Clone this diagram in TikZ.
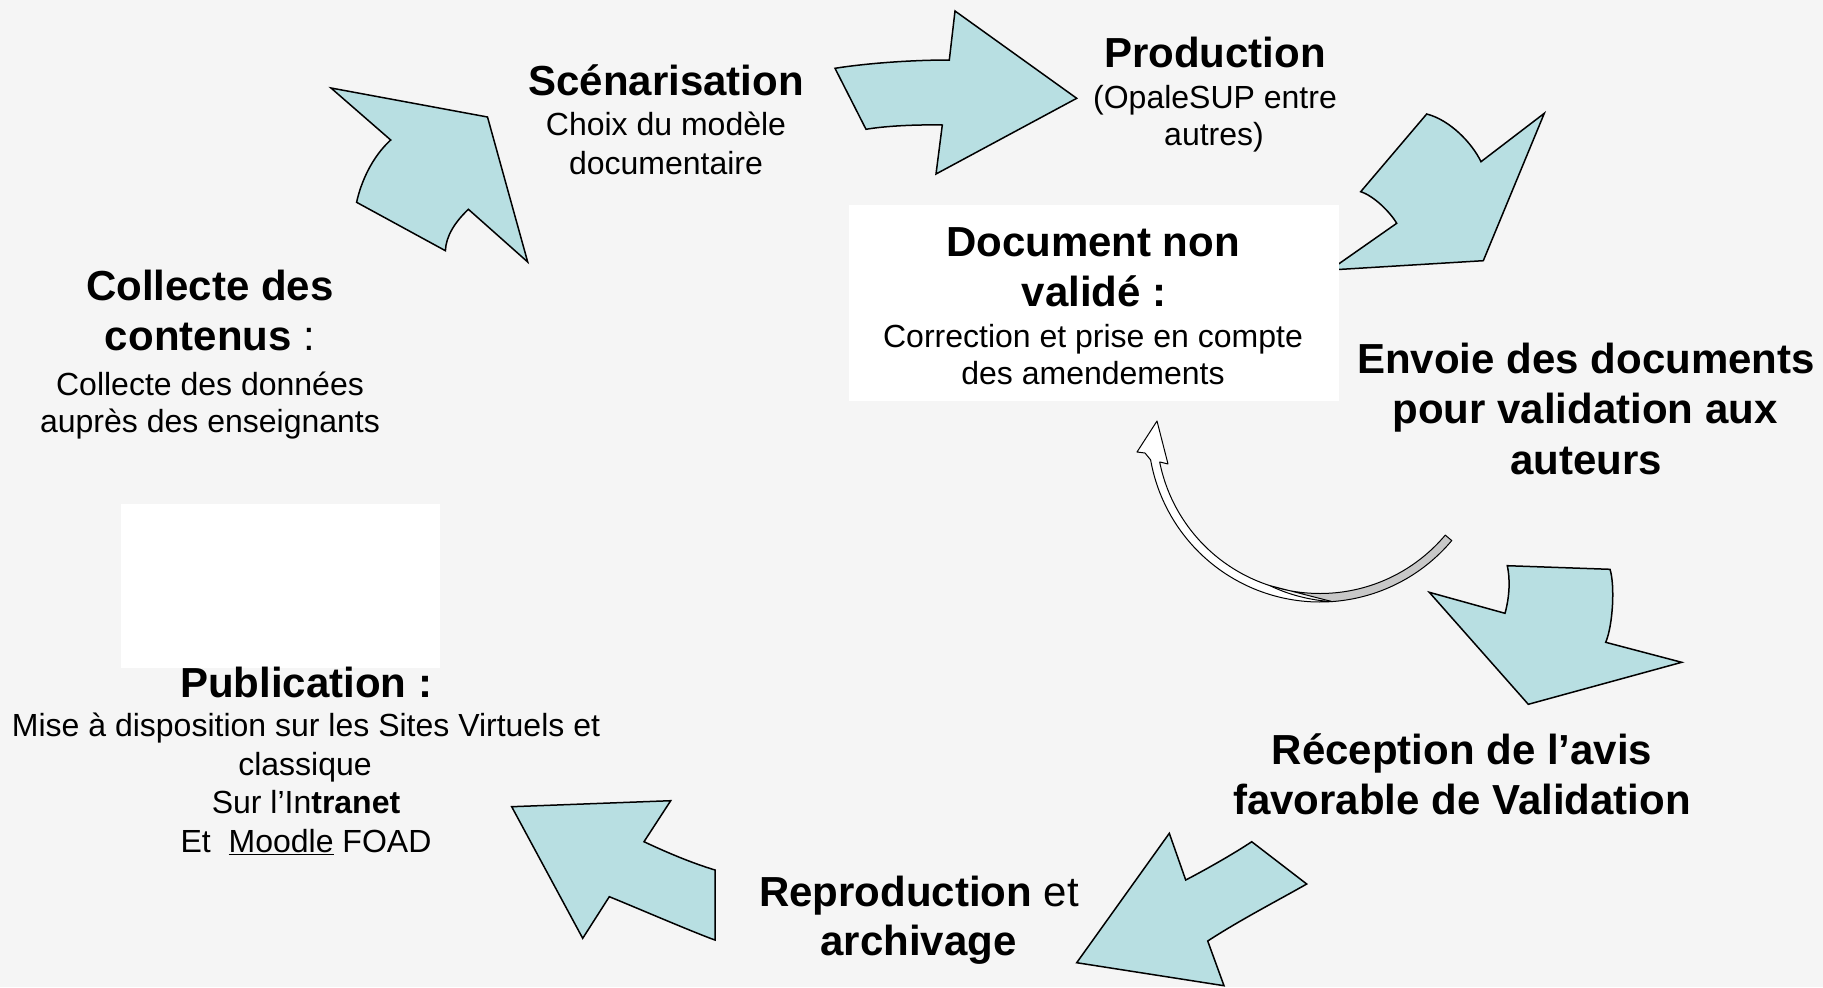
\documentclass[tikz,border=0pt]{standalone}
\usepackage{fontspec}
\setmainfont{Liberation Sans}
\definecolor{bgfill}{HTML}{F5F5F5}
\definecolor{arrowfill}{HTML}{B8DFE2}
\definecolor{loopgray}{HTML}{C8C8C8}
\begin{document}
\begin{tikzpicture}[x=1bp,y=-1bp,
  arrowshape/.style={fill=arrowfill, draw=black, line width=1.5bp, line join=miter},
  loopfront/.style={fill=white, draw=black, line width=1bp, line join=round},
  loopback/.style={fill=loopgray, draw=black, line width=1bp, line join=round},
  whitebox/.style={fill=white, draw=none},
  bigb/.style={font=\fontsize{42bp}{50bp}\selectfont\bfseries, inner sep=0pt, anchor=base},
  bigr/.style={font=\fontsize{42bp}{50bp}\selectfont, inner sep=0pt, anchor=base},
  regt/.style={font=\fontsize{32bp}{38bp}\selectfont, inner sep=0pt, anchor=base}]
\useasboundingbox (0,0) rectangle (1823,987);
\fill[bgfill] (0,0) rectangle (1823,987);

% arrow: Collecte -> Scenarisation
\draw[arrowshape] (331,88) -- (487.5,117) -- (527.7,262) -- (468.4,209.3)
  .. controls (455,222) and (446,236) .. (445.4,250.7) -- (356.6,202.3)
  .. controls (361,182) and (372,157) .. (390.7,140) -- cycle;
% arrow: Scenarisation -> Production
\draw[arrowshape] (835,68.3) .. controls (865,63.5) and (910,60) .. (949.3,60)
  -- (955,11) -- (1076.7,98.3) -- (936,174) -- (942.3,125)
  .. controls (915,124.5) and (885,126) .. (866,129.3) -- cycle;
% arrow: Production -> Envoie
\draw[arrowshape] (1426.7,114) .. controls (1450,120) and (1472,143) .. (1481,161.7)
  -- (1544.3,113.3) -- (1483.3,260.7) -- (1330,270) -- (1396.7,223.3)
  .. controls (1390,212) and (1374,196) .. (1360.7,191.7) -- cycle;
% arrow: Envoie -> Reception
\draw[arrowshape] (1429.3,592.3) -- (1505,613.3)
  .. controls (1510,595) and (1510,578) .. (1507.3,565.7) -- (1610,569.3)
  .. controls (1615,585) and (1613,625) .. (1605.7,642.3) -- (1681.7,662.3)
  -- (1528.3,704.3) -- cycle;
% arrow: Reception -> Reproduction
\draw[arrowshape] (1169.3,833.3) -- (1185.7,880)
  .. controls (1205,870) and (1235,853) .. (1251.7,841.7) -- (1306.7,884)
  .. controls (1275,902) and (1240,920) .. (1207.7,941) -- (1224,985.7)
  -- (1076.7,962.7) -- cycle;
% arrow: Reproduction -> Publication
\draw[arrowshape] (511.7,806.7) -- (670.7,800.7) -- (644,841.7)
  .. controls (668,853) and (692,863) .. (715,870) -- (715,940)
  .. controls (695,933) and (630,905) .. (609.3,896.7) -- (582.7,938.3) -- cycle;

% white boxes
\fill[whitebox] (849,205) rectangle (1339,401);
\fill[whitebox] (121,504) rectangle (440,668);

% loop arrow (back face, then front face)
\path[loopback] plot[domain=108:40, samples=50, variable=\t]
    ({1320+163.5*cos(\t)},{430+163.5*sin(\t)})
  -- plot[domain=40:86, samples=40, variable=\t]
    ({1320+172*cos(\t)},{430+172*sin(\t)}) -- cycle;
\path[loopfront] (1145,453) -- (1137,452) -- (1157,421) -- (1168,464) -- (1160,462)
  -- plot[domain=168.7:86, samples=80, variable=\t]
    ({1320+(163.5+8.5*max(0,(108-\t)/22))*cos(\t)},{430+(163.5+8.5*max(0,(108-\t)/22))*sin(\t)})
  -- plot[domain=86:170, samples=60, variable=\t]
    ({1320+172*cos(\t)},{430+172*sin(\t)}) -- cycle;

% texts
\node[bigb] (scen1) at (666,95) {Scénarisation};
\node[regt] (scen2) at (666,135) {Choix du modèle};
\node[regt] (scen3) at (666,174) {documentaire};

\node[bigb] (prod1) at (1215,67) {Production};
\node[regt] (prod2) at (1215,108) {(OpaleSUP entre};
\node[regt] (prod3) at (1214,145) {autres)};

\node[bigb] (doc1) at (1093,256) {Document non};
\node[bigb] (doc2) at (1094,306) {validé :};
\node[regt] (doc3) at (1093,347) {Correction et prise en compte};
\node[regt] (doc4) at (1093,384) {des amendements};

\node[bigb] (env1) at (1586,373) {Envoie des documents};
\node[bigb] (env2) at (1585,423) {pour validation aux};
\node[bigb] (env3) at (1586,474) {auteurs};

\node[bigb] (col1) at (210,300) {Collecte des};
\node[bigr] (col2) at (210,350) {\textbf{contenus} :};
\node[regt] (col3) at (210,395) {Collecte des données};
\node[regt] (col4) at (210,432) {auprès des enseignants};

\node[bigb] (pub1) at (306,697) {Publication :};
\node[regt] (pub2) at (306,736) {Mise à disposition sur les Sites Virtuels et};
\node[regt] (pub3) at (305,775) {classique};
\node[regt] (pub4) at (306,813) {Sur l’In\textbf{tranet}};
\node[regt] (pub5) at (306,852) {Et~~\underline{Moodle} FOAD};

\node[bigb] (rec1) at (1462,764) {Réception de l’avis};
\node[bigb] (rec2) at (1462,814) {favorable de Validation};

\node[bigr] (rep1) at (919,906) {\textbf{Reproduction} et};
\node[bigb] (rep2) at (918.5,955) {archivage};
\end{tikzpicture}
\end{document}
